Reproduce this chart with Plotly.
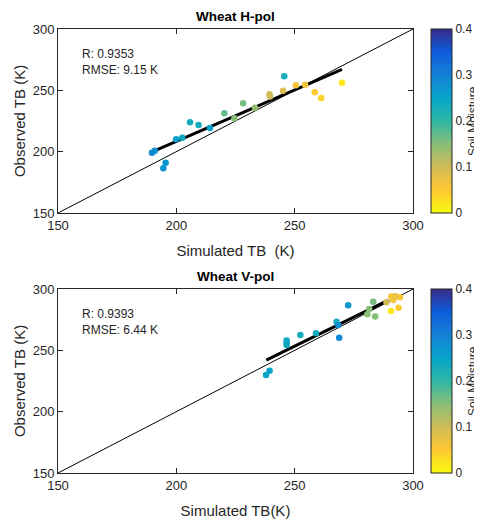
import plotly.graph_objects as go

# Wheat H-pol: simulated TB, observed TB, soil moisture
h_sim = [189.7, 190.9, 194.5, 195.5, 199.9, 202.5, 205.8, 209.4, 214.2, 220.3,
         224.5, 228.2, 233.2, 239.4, 239.6, 245.6, 245.1, 250.5, 254.4, 258.5,
         261.2, 270.0]
h_obs = [199.2, 200.8, 186.5, 191.0, 210.1, 211.4, 224.0, 221.8, 219.3, 231.3,
         227.2, 239.4, 235.9, 246.8, 245.0, 261.5, 249.7, 254.1, 254.6, 248.4,
         243.8, 256.2]
h_sm = [0.29, 0.28, 0.27, 0.27, 0.26, 0.24, 0.23, 0.23, 0.25, 0.17,
        0.15, 0.16, 0.14, 0.10, 0.10, 0.23, 0.09, 0.06, 0.06, 0.05,
        0.04, 0.02]
h_fit_x = [190, 270]
h_fit_y = [200, 267]

# Wheat V-pol
v_sim = [237.9, 239.4, 246.6, 246.6, 246.6, 252.4, 259.0, 272.6, 267.7, 268.4,
         268.8, 280.7, 281.5, 283.2, 284.0, 288.8, 290.8, 291.7, 294.5, 293.9,
         290.7, 292.5]
v_obs = [229.9, 233.4, 258.0, 256.0, 254.4, 262.5, 263.9, 286.7, 273.4, 270.7,
         260.3, 279.4, 283.7, 289.7, 277.5, 289.1, 293.8, 291.0, 293.2, 284.8,
         282.1, 294.0]
v_sm = [0.25, 0.25, 0.24, 0.24, 0.24, 0.23, 0.23, 0.27, 0.23, 0.28,
        0.29, 0.15, 0.15, 0.16, 0.15, 0.10, 0.06, 0.06, 0.05, 0.05,
        0.02, 0.07]
v_fit_x = [238, 289.6]
v_fit_y = [242, 291]

one_to_one = [150, 300]
ticks = [150, 200, 250, 300]
cb_ticks = [0, 0.1, 0.2, 0.3, 0.4]

# parula, reversed so that dry soil is yellow
parula_r = [[0.0, "#F9FB0E"], [0.125, "#FEC832"], [0.25, "#D1BB59"],
            [0.375, "#87BF77"], [0.5, "#2EB7A4"], [0.625, "#06A4CA"],
            [0.75, "#1481D6"], [0.875, "#0F5CDD"], [1.0, "#352A87"]]

font = "Liberation Sans, Arial, sans-serif"
# the page body has an 8px margin, so the figure is a bit smaller than the window
W, H = 474, 515
ML, MR, MT, MB = 50, 69, 21, 50
PW, PH = W - ML - MR, H - MT - MB

fig = go.Figure()

panels = [
    (h_sim, h_obs, h_sm, h_fit_x, h_fit_y, "", "coloraxis"),
    (v_sim, v_obs, v_sm, v_fit_x, v_fit_y, "2", "coloraxis2"),
]
for sim, obs, sm, fx, fy, ax, cax in panels:
    fig.add_trace(go.Scatter(x=one_to_one, y=one_to_one, mode="lines",
                             line=dict(color="black", width=1),
                             xaxis="x" + ax, yaxis="y" + ax, showlegend=False))
    fig.add_trace(go.Scatter(x=fx, y=fy, mode="lines",
                             line=dict(color="black", width=3),
                             xaxis="x" + ax, yaxis="y" + ax, showlegend=False))
    fig.add_trace(go.Scatter(x=sim, y=obs, mode="markers",
                             marker=dict(size=6.5, color=sm, coloraxis=cax, line=dict(width=0)),
                             xaxis="x" + ax, yaxis="y" + ax, showlegend=False))

axis_style = dict(range=[150, 300], tickvals=ticks, ticks="inside", ticklen=5,
                  tickcolor="#262626", showline=True, linecolor="#262626", linewidth=1,
                  mirror="ticks", showgrid=False, zeroline=False, automargin=False,
                  tickfont=dict(size=13, color="#262626", family=font))

ydom1 = [(H - MB - 205) / PH, 1]
ydom2 = [0, (H - MB - 281) / PH]


def cbar(ydom):
    return dict(cmin=0, cmax=0.4, colorscale=parula_r,
                colorbar=dict(x=(423 - ML) / PW, xanchor="left", y=ydom[0], yanchor="bottom",
                              len=ydom[1] - ydom[0], lenmode="fraction",
                              thickness=21, thicknessmode="pixels",
                              outlinecolor="#262626", outlinewidth=1, ypad=0, xpad=0,
                              tickvals=cb_ticks, ticktext=["0", "0.1", "0.2", "0.3", "0.4"],
                              ticks="", ticklen=0,
                              tickfont=dict(size=12, color="#262626", family=font)))


fig.update_layout(
    width=W, height=H, margin=dict(l=ML, r=MR, t=MT, b=MB, autoexpand=False),
    plot_bgcolor="white", paper_bgcolor="white",
    font=dict(family=font, color="#262626"),
    xaxis=dict(axis_style, domain=[0, 1], anchor="y",
               title=dict(text="Simulated TB  (K)", font=dict(size=15), standoff=13)),
    yaxis=dict(axis_style, domain=ydom1, anchor="x",
               title=dict(text="Observed TB (K)", font=dict(size=15), standoff=3)),
    xaxis2=dict(axis_style, domain=[0, 1], anchor="y2",
                title=dict(text="Simulated TB(K)", font=dict(size=15), standoff=13)),
    yaxis2=dict(axis_style, domain=ydom2, anchor="x2",
                title=dict(text="Observed TB (K)", font=dict(size=15), standoff=3)),
    coloraxis=cbar(ydom1),
    coloraxis2=cbar(ydom2),
)

titles = [("Wheat H-pol", ydom1[1]), ("Wheat V-pol", ydom2[1])]
for text, ytop in titles:
    fig.add_annotation(text="<b>" + text + "</b>", x=0.5, y=ytop,
                       xref="paper", yref="paper", xanchor="center", yanchor="bottom",
                       yshift=3, showarrow=False, font=dict(size=13.5, color="black"))

    # colour bar caption, kept just inside the right edge
    fig.add_annotation(text="Soil Moisture", textangle=-90, x=(474 - ML) / PW,
                       y=ytop - (ydom1[1] - ydom1[0]) / 2, xref="paper", yref="paper",
                       xanchor="right", yanchor="middle", showarrow=False,
                       font=dict(size=12, color="#262626"))

stats = [("R: 0.9353<br>RMSE: 9.15 K", "x", "y"), ("R: 0.9393<br>RMSE: 6.44 K", "x2", "y2")]
for text, xr, yr in stats:
    fig.add_annotation(text=text, x=159.5, y=287, xref=xr, yref=yr, xanchor="left",
                       yanchor="top", align="left", showarrow=False,
                       font=dict(size=12, color="#262626"))

fig.write_html("out.html")
